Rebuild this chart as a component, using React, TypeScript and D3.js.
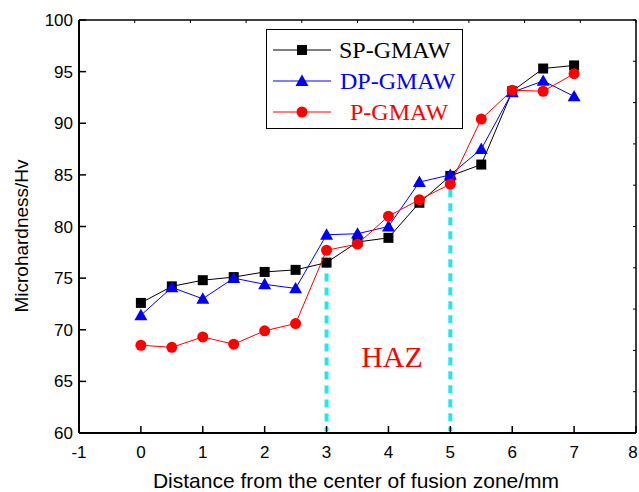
import React from "react";
import * as d3 from "d3";

const xPositions = [0, 0.5, 1, 1.5, 2, 2.5, 3, 3.5, 4, 4.5, 5, 5.5, 6, 6.5, 7];
const spGmaw = [72.6, 74.2, 74.8, 75.1, 75.6, 75.8, 76.5, 78.5, 78.9, 82.3, 84.9, 86.0, 93.1, 95.3, 95.6];
const dpGmaw = [71.4, 74.1, 73.0, 75.0, 74.4, 74.0, 79.2, 79.3, 80.0, 84.3, 85.0, 87.5, 93.0, 94.1, 92.6];
const pGmaw = [68.5, 68.3, 69.3, 68.6, 69.9, 70.6, 77.7, 78.3, 81.0, 82.6, 84.1, 90.4, 93.2, 93.1, 94.8];
const xTicks = [-1, 0, 1, 2, 3, 4, 5, 6, 7, 8];
const yTicks = [60, 65, 70, 75, 80, 85, 90, 95, 100];
const hazLines = [
  { x: 3, top: 76.8 },
  { x: 5, top: 83.6 },
];
const seriesNames = ["SP-GMAW", "DP-GMAW", "P-GMAW"];

const W = 639;
const H = 492;
const L = 79, R = 636, T = 20, B = 433;

export default function App() {
  const x = d3.scaleLinear().domain([-1, 8]).range([L, R]);
  const y = d3.scaleLinear().domain([60, 100]).range([B, T]);
  const line = d3
    .line<number>()
    .x((_, i) => x(xPositions[i]))
    .y((d) => y(d));

  const series = [
    { name: seriesNames[0], data: spGmaw, color: "#000000", lineColor: "#000000", shape: "square" },
    { name: seriesNames[1], data: dpGmaw, color: "#0000ff", lineColor: "#0000ff", shape: "triangle" },
    { name: seriesNames[2], data: pGmaw, color: "#ff0000", lineColor: "#ff0000", shape: "circle" },
  ];

  const marker = (shape: string, cx: number, cy: number, color: string, key: string) => {
    if (shape === "square")
      return <rect key={key} x={cx - 5} y={cy - 5} width={10} height={10} fill={color} />;
    if (shape === "triangle") {
      const s = 6.5;
      const pts = `${cx},${cy - s} ${cx + s},${cy + s * 0.75} ${cx - s},${cy + s * 0.75}`;
      return <polygon key={key} points={pts} fill={color} />;
    }
    return <circle key={key} cx={cx} cy={cy} r={5.5} fill={color} />;
  };

  const topTicks = d3.range(0, 11).map((i) => L + ((R - L) * i) / 10);
  const rightTicks = d3.range(0, 11).map((i) => T + ((B - T) * i) / 10);

  const legendRows = [50, 81, 112];
  const textX = [339, 340, 350];

  return (
    <svg width={W} height={H} style={{ position: "absolute", left: 0, top: 0, background: "#fff" }}>
      <rect x={0} y={0} width={W} height={H} fill="#fff" />
      {/* HAZ dashed lines */}
      {hazLines.map((h, i) => (
        <line
          key={"haz" + i}
          x1={x(h.x)}
          x2={x(h.x)}
          y1={y(h.top)}
          y2={B - 2}
          stroke="#22e6f0"
          strokeWidth={4}
          strokeDasharray="8,6"
        />
      ))}
      <text
        x={392}
        y={367}
        textAnchor="middle"
        fontFamily="'Liberation Serif', 'Times New Roman', serif"
        fontSize={30}
        fill="#ff0000"
      >
        HAZ
      </text>

      {/* series */}
      {series.map((s) => (
        <g key={s.name}>
          <path d={line(s.data) || ""} fill="none" stroke={s.lineColor} strokeWidth={1} />
          {s.data.map((v, i) => marker(s.shape, x(xPositions[i]), y(v), s.color, s.name + i))}
        </g>
      ))}

      {/* frame */}
      <g stroke="#000" fill="none">
        <line x1={L} x2={R} y1={B} y2={B} strokeWidth={2} />
        <line x1={L} x2={L} y1={T} y2={B} strokeWidth={2} />
        <line x1={L} x2={R} y1={T} y2={T} strokeWidth={1.5} />
        <line x1={R} x2={R} y1={T} y2={B} strokeWidth={1.5} />
        {xTicks.map((t) => (
          <line key={"xt" + t} x1={x(t)} x2={x(t)} y1={B} y2={B - 7} strokeWidth={1.5} />
        ))}
        {yTicks.map((t) => (
          <line key={"yt" + t} x1={L} x2={L + 7} y1={y(t)} y2={y(t)} strokeWidth={1.5} />
        ))}
        {topTicks.map((t, i) => (
          <line key={"tt" + i} x1={t} x2={t} y1={T} y2={T + 3} strokeWidth={1} />
        ))}
        {rightTicks.map((t, i) => (
          <line key={"rt" + i} x1={R} x2={R - 3} y1={t} y2={t} strokeWidth={1} />
        ))}
      </g>

      {/* tick labels */}
      <g fontFamily="'Liberation Sans', Arial, sans-serif" fontSize={17} fill="#000">
        {xTicks.map((t) => (
          <text key={"xl" + t} x={Math.min(x(t), W - 6)} y={458} textAnchor="middle">
            {t}
          </text>
        ))}
        {yTicks.map((t) => (
          <text key={"yl" + t} x={73} y={y(t) + 6} textAnchor="end">
            {t}
          </text>
        ))}
      </g>
      <text
        x={356}
        y={488}
        textAnchor="middle"
        fontFamily="'Liberation Sans', Arial, sans-serif"
        fontSize={21}
      >
        Distance from the center of fusion zone/mm
      </text>
      <text
        transform={`translate(28,236) rotate(-90)`}
        textAnchor="middle"
        fontFamily="'Liberation Sans', Arial, sans-serif"
        fontSize={19}
      >
        Microhardness/Hv
      </text>

      {/* legend */}
      <rect x={266.5} y={29.5} width={196} height={99} fill="#fff" stroke="#000" strokeWidth={1} />
      {series.map((s, i) => (
        <g key={"lg" + i}>
          <line x1={273} x2={331} y1={legendRows[i]} y2={legendRows[i]} stroke={s.lineColor} strokeWidth={1} />
          {marker(s.shape, 302, legendRows[i], s.color, "lm" + i)}
          <text
            x={textX[i]}
            y={legendRows[i] + 8}
            fontFamily="'Liberation Serif', 'Times New Roman', serif"
            fontSize={24}
            fill={s.color}
          >
            {s.name}
          </text>
        </g>
      ))}
    </svg>
  );
}
